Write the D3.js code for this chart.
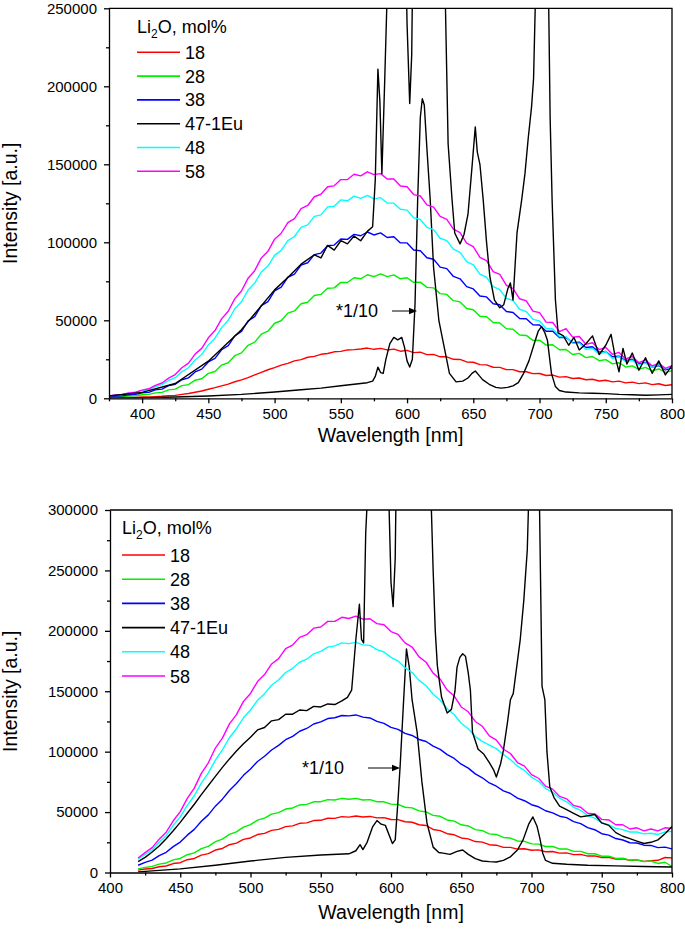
<!DOCTYPE html>
<html><head><meta charset="utf-8">
<script src="https://cdn.jsdelivr.net/npm/d3@7"></script>
<style>
body{margin:0;background:#fff;overflow:hidden}
text{font-family:"Liberation Sans",Arial,Helvetica,sans-serif;fill:#000}
</style>
</head><body>
<svg id="c" width="685" height="933"></svg>
<script>
// ---------- DATA (intensity values in thousands of counts) ----------
const legendLabels = ["18","28","38","47-1Eu","48","58"];
const legendColors = ["#ff0000","#00f000","#0000ff","#000000","#00ffff","#ff00ff"];

// Top panel
const topXTicks = [400,450,500,550,600,650,700,750,800];
const topYTicks = [0,50000,100000,150000,200000,250000];
const topWl = [375,380,385,390,395,400,405,410,415,420,
  425,430,435,440,445,450,455,460,465,470,
  475,480,485,490,495,500,505,510,515,520,
  525,530,535,540,545,550,555,560,565,570,
  575,580,585,590,595,600,605,610,615,620,
  625,630,635,640,645,650,655,660,665,670,
  675,680,685,690,695,700,705,710,715,720,
  725,730,735,740,745,750,755,760,765,770,
  775,780,785,790,795,800];
const top18 = [0.2,0.3,0.4,0.5,0.6,0.8,0.9,1.1,1.3,1.6,
  1.9,2.5,3.1,3.9,4.7,5.8,6.8,8,9.1,10.6,
  11.8,13.3,15,16.6,18.3,19.7,21.3,22.4,24,24.8,
  26.3,26.9,28.2,28.7,29.8,30.1,31,31.2,31.6,32.2,
  31.4,32,31,31.5,30.2,30.7,29.3,29.6,28,28.1,
  26.6,26.6,25,24.9,23.3,23.1,21.6,21.4,19.9,19.8,
  18.4,18.4,17,17,15.8,15.9,14.6,14.9,13.6,13.9,
  12.7,13,11.9,12.2,11.1,11.6,10.5,11,9.9,10.4,
  9.4,9.9,8.8,9.3,8.2,8.7];
const top28 = [0.7,1,1.1,1.5,1.6,2.3,2.5,3.5,3.8,5.4,
  5.9,8.1,8.8,11.6,12.5,16,17.2,21.3,22.8,27.3,
  29.1,34,36,41.1,43,48.1,49.7,54.6,56,60.6,
  61.6,65.9,66.6,70.5,70.8,74.3,74.2,77.3,76.6,79.2,
  78,79.8,78,79.1,76.6,77.3,74.3,74.5,71.1,70.8,
  67.1,66.6,62.6,61.8,57.6,56.8,52.6,52.3,48.6,48.3,
  44.6,44.3,40.6,40.3,37.1,37.3,34.1,34.3,31.1,31.3,
  28.1,28.8,26.1,26.8,24.1,24.8,22.1,22.8,20.1,20.8,
  18.6,19.8,17.6,18.8,16.6,17.6];
const top38 = [1,1.4,1.6,2.3,2.5,3.5,3.8,5.4,5.9,8.1,
  9,11.9,13.1,16.9,18.7,23.3,25.6,31.1,33.8,40,
  42.9,49.6,52.4,59.4,62,68.9,71.3,77.6,79.6,85.4,
  86.9,92.1,93.1,97.8,98.2,102.1,101.9,105.1,104.2,106.6,
  104.7,106,103.1,103.6,99.6,99.6,95.1,94.6,90.1,89.1,
  84.1,83.1,78.1,76.6,71.6,70.1,65.6,65,60.6,60,
  55.6,55,51.1,51,47.1,47,43,43,39,39,
  35.6,36,32.6,33,29.6,30,26.6,27,24.1,25,
  22.1,23,20.1,21,18.2,19.4];
const top48 = [1.4,2.1,2.4,3.2,3.7,4.9,5.6,7.5,8.8,11.4,
  13.2,17,19.6,24.6,28.1,34.2,38.5,45.3,50,57.4,
  61.9,69.4,73.8,81,84.8,91.6,94.8,101.1,103.7,109.6,
  111.2,116.6,117.6,122.7,123.1,127.2,126.6,129.6,128.2,130.1,
  127.8,128.6,125.2,125.1,121.2,120.6,115.7,114.6,109.6,108.1,
  102.6,101.1,95.6,93.6,87.6,85.6,79.6,77.6,71.6,69.6,
  64.1,62.6,57.1,55.6,50.6,49.6,44.8,44.4,39.6,39.4,
  35.2,35.4,31.4,32,28.4,30,25.6,26.6,23.4,24.4,
  21.4,22.6,20,21.6,18.9,20];
const top58 = [1.5,2.1,2.4,3.4,3.9,5.2,6.1,8.3,9.8,12.9,
  15.2,19.6,22.5,28.3,32,38.8,43.4,50.9,55.8,63.9,
  68.8,77,81.8,90,94.2,102,105.8,112.6,115.2,121.6,
  123.6,129.2,130.8,135.6,136.2,140.2,140.3,143.6,142.6,145.2,
  143.4,144,140.6,140.6,136.1,135.6,130.6,129.7,124,122.6,
  116.6,114.7,108.4,106.2,99.4,97.3,90.3,88.3,81.2,79.4,
  72.4,70.3,63.8,62.4,55.9,54.9,48.8,48.6,42.7,44.6,
  39.2,39.6,34.6,35.6,31.2,32.6,28.2,29.4,25.2,26.8,
  22.8,24.6,20.8,22.4,19.2,21];
const topEuWl = [375,400,425,450,475,500,510,520,530,535,540,545,550,555,560,565,
  570,574,576,578,579.5,581,583,585,587,590,593,596,598,600,602,603.5,605,608,611.5,615,
  620,624,627.5,629,631,634,636,640,643,646,649,651.5,653,655,657.5,660,662.5,666,670,673,
  676,678,680,683,686.5,689,691.5,694,695.5,697,699,701.5,704,706.5,708,709.5,712,714,718,722,
  726,730,735,740,745,750,754,757,760,763,766,770,775,780,785,790,795,800];
const topEu = [1.5,3.8,9.5,23.8,44,69.5,77.5,86,92,90,98,95,101,99,104,101,
  107,110,140,211,190,144,200,260,350,390,375,390,330,240,189,220,330,1270,1920,1600,
  840,500,330,250,163,127,106,99,105,118,148,174,158,150,127,100,78,63,58,60,
  70,74,63,106,127,144,167,187,205,260,430,460,420,280,180,127,63,42,40,34,
  39,31,35,40,28,34,41,27,17,32,22,29,18,26,16,24,15,21];
const topEuScaledWl = [375,400,425,450,475,500,520,535,550,560,
  570,574,576,578,580,582,584,587,590,593,
  596,598,600,602,604,606,608,610,611.5,613,
  615,617.5,620,624,627.5,632,637,642,646,649,
  651.5,654,657,662,667,671,676,680,684,688,
  692,696,699,701.5,704,706,709,712,715,720,
  730,740,750,760,770,780,790,800];
const topEuScaled = [0,0.3,0.8,1.5,2.5,4,5.5,6.5,8,9,
  10,11,14,20,16.5,16,25,35,39,37.5,
  39,33,24,20,25,60,127,180,192,188,
  160,127,84,50,35,16,10.5,11,13,16,
  17.5,15,12,9,7,6.5,7,8,10,16,
  24,35,43,46,42,37,16,7.5,5,4,
  3.5,3.2,3,2.5,2.3,2,2.2,2.5];

// Bottom panel
const botXTicks = [400,450,500,550,600,650,700,750,800];
const botYTicks = [0,50000,100000,150000,200000,250000,300000];
const botWl = [420,425,430,435,440,445,450,455,460,465,
  470,475,480,485,490,495,500,505,510,515,
  520,525,530,535,540,545,550,555,560,565,
  570,575,580,585,590,595,600,605,610,615,
  620,625,630,635,640,645,650,655,660,665,
  670,675,680,685,690,695,700,705,710,715,
  720,725,730,735,740,745,750,755,760,765,
  770,775,780,785,790,795,800];
const bot18 = [2,2.9,3.3,4.8,5.4,7.4,8.1,10.6,11.6,14.4,
  15.6,18.6,19.9,23,24.3,27.4,28.6,31.4,32.4,34.9,
  35.7,38,38.6,40.7,41.1,43,43.2,44.9,44.8,46.2,
  45.8,46.8,45.9,46.4,45.2,45.4,43.9,43.8,42,41.6,
  39.5,38.9,35.6,34.7,32.1,31.2,28.6,27.8,25.6,25.1,
  23,22.6,20.8,20.8,19.4,19.7,18.4,18.7,17.2,17.4,
  16,16.2,14.8,15,13.6,13.8,12.4,12.6,11.2,11.4,
  10.1,10.4,9.2,9.7,10.1,12.4,12.1];
const bot28 = [3,4.2,5,6.9,7.9,10.4,11.6,14.7,16.2,19.7,
  21.6,25.5,27.6,31.5,33.6,37.5,39.6,43.3,45,48.3,
  49.6,52.5,53.4,55.9,56.4,58.5,58.6,60.3,60,61.3,
  60.6,61.3,60,60.3,58.6,58.5,56.6,56.3,54,53.5,
  51,50.1,47.3,46.5,43.5,42.5,39.5,38.5,35.5,34.7,
  32,31.5,29,28.5,26.1,25.8,23.7,23.5,21.5,21.5,
  19.5,19.5,17.5,17.5,15.5,15.5,13.5,13.5,11.7,11.9,
  10.1,10.5,9,9.5,7.5,8.5,5];
const bot38 = [6,8.4,10.2,13.9,16.7,21.4,25.2,30.9,35.7,42.4,
  47.7,54.9,60.7,67.9,73.7,80.4,85.7,91.9,96.2,101.4,
  105.2,109.9,112.7,116.9,119.2,122.9,124.6,127.4,128.1,129.9,
  129.6,130.4,128.6,127.9,125.1,123.4,120.1,118.4,115.1,113.4,
  110.1,108.4,104.6,101.9,97.6,94.4,89.6,86.4,81.6,78.4,
  74.1,71.4,67.6,65.4,61.6,59.4,56.1,54.4,51.1,49.4,
  46.6,45.4,42.1,40.4,37.1,35.4,32.1,30.9,28.1,26.9,
  24.6,24.4,22.6,22.4,20.6,21,19.5];
const bot48 = [11,14.9,18.6,25,30.5,39,46,55.5,63.5,74,
  82.5,93,101.5,111.5,119,128,134.5,142.5,148,155,
  159.5,165.5,169,174,176.5,181,183,186.5,187.6,190,
  189.4,190.5,188.4,188,184.4,182.5,178,175,169.4,165.5,
  159,154.5,147.5,142.5,135.5,130.5,123.5,119,112.5,108.5,
  105.5,102.5,97.5,93.5,88,84.5,79,75.5,69.5,66.5,
  61.5,58.5,54,51.5,47,45,41,39.5,36.5,35.5,
  33.5,33.5,32,32.5,31.5,33.5,34];
const bot58 = [12,16.4,20.6,27.6,33.4,42.8,50.4,61.4,69.8,82,
  90.8,103,111.2,123,130.6,141.6,148.2,158,163.8,172.6,
  177,185.2,188.2,194.6,196.8,202.2,203.2,207.8,207.8,211.2,
  210.2,212.2,209.6,210,206,205,199.4,197,190,186.6,
  178.4,174,165,160,151,146,137,133,125,121,
  113,109.5,102,98.5,91,88,81,78,71.5,69,
  63,61,55.5,54,49,48.5,44,43.5,39.5,39.5,
  36,37,34.5,36,34.5,37,36.5];
const botEuWl = [420,425,430,435,440,445,450,455,460,465,470,475,480,485,490,495,500,505,510,515,
  520,525,530,535,540,545,550,555,560,565,569,572,575,577.5,579,580.5,582,584,587,590,
  593,596,598,600,601.5,603,604.5,608,611,614,618,622,626,628,630,631.5,633,636,640,643,
  645.5,647,649,651,653,655,656.5,658,662,666,670,673,675,678,680,683,685,687,690,692,
  694.5,697,698.5,701,703,705.5,707.5,709.5,711,713,716,720,725,730,735,740,745,750,755,760,
  765,770,775,780,785,790,795,800];
const botEu = [9,12.5,17,22,28,34.5,41.5,49,56.5,64.5,72,79.5,87,94,100.5,106.5,112,118,120,125.5,
  126.5,131,131,134.5,134,137.5,137,139.5,139,142,145,151,193,222,193,190,281,330,420,430,
  410,400,330,240,220,260,400,1400,1850,1500,1100,700,420,330,250,200,171,145,132,135,
  150,170,178,181,179,165,151,116,102,98,91,85,79,90,101,125,143,148,175,193,
  225,267,330,460,420,320,154,143,100,71,62,55,52,49,46,47,48,41,39,33,
  30,28,26,24,25,27,32,38];
const botEuScaledWl = [420,450,475,500,525,550,570,575,578,580,
  583,587,590,593,596,599,601,603,605,606.5,
  609,611,613,615,618.6,622,625.6,630,634,637,
  642,647,651,655,660,665,670,675,680,685,
  690,694,698,701,704,706,708,710,715,725,
  740,760,780,800];
const botEuScaled = [0.5,3,6,9.5,12.5,14.5,15.5,18,23,19,
  25,38,43,40,39,30,24,27,60,88,
  143,185,170,143,116,75,41,21,16.5,16,
  15,17.5,18.6,15,11.5,9.5,9,8.7,10,13,
  18.6,27,40,46,38,28,16,10,7.6,6.8,
  6,5.5,5,4.6];

// ---------- DRAWING ----------
const svg = d3.select("#c");
const defs = svg.append("defs");

function drawPanel(cfg){
  const x = d3.scaleLinear().domain(cfg.xDomain).range([cfg.left, cfg.right]);
  const y = d3.scaleLinear().domain(cfg.yDomain).range([cfg.bottom, cfg.top]);
  defs.append("clipPath").attr("id","clip"+cfg.id).append("rect")
    .attr("x",cfg.left).attr("y",cfg.top)
    .attr("width",cfg.right-cfg.left).attr("height",cfg.bottom-cfg.top);
  const line = d3.line().x(d=>x(d[0])).y(d=>y(d[1]*1000));
  const lg = svg.append("g").attr("clip-path","url(#clip"+cfg.id+")");
  cfg.series.forEach(s=>{
    lg.append("path").attr("d", line(s.wl.map((w,i)=>[w,s.v[i]])))
      .attr("fill","none").attr("stroke",s.color).attr("stroke-width",1.4)
      .attr("stroke-linejoin","round");
  });

  const xMinor = [];
  for (let v=cfg.xDomain[0]; v<=cfg.xDomain[1]; v+=25) if (cfg.xTicks.indexOf(v)<0) xMinor.push(v);
  const yMinor = [];
  for (let v=cfg.yDomain[0]; v<=cfg.yDomain[1]; v+=25000) if (cfg.yTicks.indexOf(v)<0) yMinor.push(v);

  const gx = svg.append("g").attr("transform","translate(0,"+cfg.bottom+")")
    .call(d3.axisBottom(x).tickValues(cfg.xTicks).tickSize(5).tickSizeOuter(0).tickPadding(5).tickFormat(d3.format("d")));
  svg.append("g").attr("transform","translate(0,"+cfg.bottom+")")
    .call(d3.axisBottom(x).tickValues(xMinor).tickSize(3).tickSizeOuter(0).tickFormat(""))
    .select(".domain").remove();
  const gy = svg.append("g").attr("transform","translate("+cfg.left+",0)")
    .call(d3.axisLeft(y).tickValues(cfg.yTicks).tickSize(5).tickSizeOuter(0).tickPadding(7).tickFormat(d3.format("d")));
  svg.append("g").attr("transform","translate("+cfg.left+",0)")
    .call(d3.axisLeft(y).tickValues(yMinor).tickSize(3).tickSizeOuter(0).tickFormat(""))
    .select(".domain").remove();
  svg.selectAll(".tick line, .domain").attr("stroke","#000").attr("stroke-width",1.3);
  [gx,gy].forEach(g=>g.selectAll("text").attr("font-size",15).attr("font-family",'"Liberation Sans",Arial,sans-serif'));

  svg.append("path").attr("d","M"+cfg.left+","+cfg.top+"H"+cfg.right+"V"+cfg.bottom)
    .attr("fill","none").attr("stroke","#000").attr("stroke-width",1.3);

  svg.append("text").attr("x",(cfg.left+cfg.right)/2).attr("y",cfg.bottom+cfg.xTitleDy)
    .attr("text-anchor","middle").attr("font-size",19.5).text("Wavelength [nm]");
  svg.append("text").attr("transform","translate(17,"+((cfg.top+cfg.bottom)/2)+") rotate(-90)")
    .attr("text-anchor","middle").attr("font-size",19.5).text("Intensity [a.u.]");

  const L = cfg.legend;
  const t = svg.append("text").attr("x",L.x).attr("y",L.titleY).attr("font-size",18);
  t.append("tspan").text("Li");
  t.append("tspan").attr("font-size",12).attr("dy",5).text("2");
  t.append("tspan").attr("dy",-5).text("O, mol%");
  legendLabels.forEach((lab,i)=>{
    const yy = L.y0 + i*L.dy;
    svg.append("line").attr("x1",L.x).attr("x2",L.x+43).attr("y1",yy).attr("y2",yy)
      .attr("stroke",legendColors[i]).attr("stroke-width",1.6);
    svg.append("text").attr("x",L.x+48).attr("y",yy+6.5).attr("font-size",18).text(lab);
  });

  const A = cfg.note;
  svg.append("text").attr("x",A.tx).attr("y",A.ty).attr("font-size",18).text("*1/10");
  svg.append("line").attr("x1",A.ax1).attr("x2",A.ax2-6).attr("y1",A.ay).attr("y2",A.ay)
    .attr("stroke","#000").attr("stroke-width",1);
  svg.append("path").attr("d","M"+A.ax2+","+A.ay+"l-8,-3.2v6.4z").attr("fill","#000");
}

drawPanel({
  id:"top", left:109, right:672, top:8.3, bottom:398.3, xTitleDy:44,
  xDomain:[375,800], yDomain:[0,250000], xTicks:topXTicks, yTicks:topYTicks,
  series:[
    {wl:topWl, v:top18, color:legendColors[0]},
    {wl:topWl, v:top28, color:legendColors[1]},
    {wl:topWl, v:top38, color:legendColors[2]},
    {wl:topEuScaledWl, v:topEuScaled, color:legendColors[3]},
    {wl:topWl, v:top48, color:legendColors[4]},
    {wl:topWl, v:top58, color:legendColors[5]},
    {wl:topEuWl, v:topEu, color:legendColors[3]}
  ],
  legend:{x:137, titleY:33, y0:52.3, dy:23.8},
  note:{tx:336, ty:317, ax1:392, ax2:417, ay:311}
});
drawPanel({
  id:"bot", left:110, right:672, top:510, bottom:872.5, xTitleDy:46,
  xDomain:[400,800], yDomain:[0,300000], xTicks:botXTicks, yTicks:botYTicks,
  series:[
    {wl:botWl, v:bot18, color:legendColors[0]},
    {wl:botWl, v:bot28, color:legendColors[1]},
    {wl:botWl, v:bot38, color:legendColors[2]},
    {wl:botEuScaledWl, v:botEuScaled, color:legendColors[3]},
    {wl:botWl, v:bot48, color:legendColors[4]},
    {wl:botWl, v:bot58, color:legendColors[5]},
    {wl:botEuWl, v:botEu, color:legendColors[3]}
  ],
  legend:{x:122, titleY:534.3, y0:555, dy:24.2},
  note:{tx:302, ty:774, ax1:368, ax2:400, ay:768}
});
</script>
</body></html>
